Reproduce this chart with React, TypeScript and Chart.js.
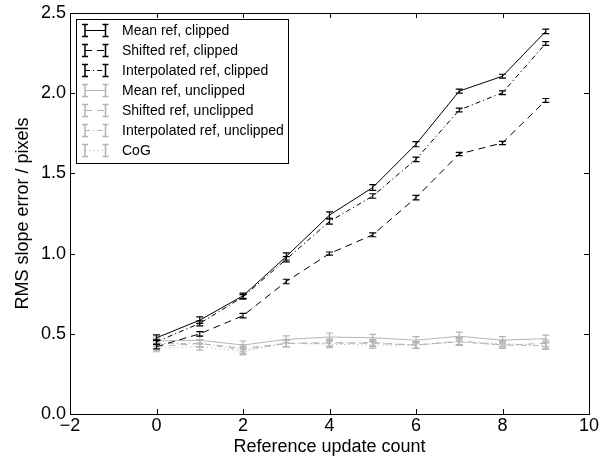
import React, { useEffect, useRef } from "react";
import { Chart, registerables } from "chart.js";

Chart.register(...registerables);

// Reference update count on the x axis
const updateCounts = [0, 1, 2, 3, 4, 5, 6, 7, 8, 9];

// Clipped variants (black)
const meanClipped = [0.475, 0.585, 0.737, 0.982, 1.24, 1.412, 1.682, 2.013, 2.106, 2.385];
const meanClippedErr = [0.018, 0.02, 0.016, 0.022, 0.02, 0.018, 0.016, 0.012, 0.012, 0.014];
const shiftedClipped = [0.42, 0.5, 0.613, 0.826, 1.0, 1.117, 1.349, 1.621, 1.69, 1.955];
const shiftedClippedErr = [0.014, 0.014, 0.014, 0.014, 0.01, 0.012, 0.014, 0.01, 0.01, 0.012];
const interpClipped = [0.45, 0.565, 0.73, 0.965, 1.2, 1.359, 1.588, 1.895, 2.003, 2.31];
const interpClippedErr = [0.016, 0.016, 0.014, 0.016, 0.016, 0.014, 0.014, 0.012, 0.012, 0.012];

// Unclipped variants and centre of gravity (grey)
const meanUnclipped = [0.455, 0.46, 0.43, 0.465, 0.48, 0.475, 0.46, 0.485, 0.46, 0.47];
const meanUnclippedErr = [0.025, 0.025, 0.025, 0.022, 0.025, 0.022, 0.022, 0.025, 0.022, 0.022];
const shiftedUnclipped = [0.42, 0.44, 0.41, 0.44, 0.445, 0.44, 0.43, 0.455, 0.43, 0.44];
const shiftedUnclippedErr = [0.022, 0.022, 0.022, 0.02, 0.022, 0.02, 0.02, 0.022, 0.02, 0.02];
const interpUnclipped = [0.44, 0.44, 0.4, 0.44, 0.44, 0.445, 0.43, 0.45, 0.43, 0.425];
const interpUnclippedErr = [0.022, 0.022, 0.022, 0.02, 0.022, 0.02, 0.02, 0.022, 0.02, 0.02];
const cogValues = [0.41, 0.42, 0.39, 0.44, 0.435, 0.43, 0.43, 0.45, 0.44, 0.425];
const cogErr = [0.022, 0.022, 0.022, 0.02, 0.022, 0.02, 0.02, 0.022, 0.02, 0.02];

// Axis ticks
const xTicks = [-2, 0, 2, 4, 6, 8, 10];
const yTicks = [0, 0.5, 1.0, 1.5, 2.0, 2.5];

const BLACK = "#000000";
const GREY = "#b4b4b4";
const SOLID: number[] = [];
const DASHED = [7, 5];
const DASH_DOT = [5, 3, 1.2, 3];
const DOTTED = [1.2, 3];

const FONT = "'Liberation Sans', Arial, Helvetica, sans-serif";

type SeriesDef = {
  label: string;
  values: number[];
  errors: number[];
  color: string;
  dash: number[];
};

const seriesDefs: SeriesDef[] = [
  { label: "Mean ref, clipped", values: meanClipped, errors: meanClippedErr, color: BLACK, dash: SOLID },
  { label: "Shifted ref, clipped", values: shiftedClipped, errors: shiftedClippedErr, color: BLACK, dash: DASHED },
  { label: "Interpolated ref, clipped", values: interpClipped, errors: interpClippedErr, color: BLACK, dash: DASH_DOT },
  { label: "Mean ref, unclipped", values: meanUnclipped, errors: meanUnclippedErr, color: GREY, dash: SOLID },
  { label: "Shifted ref, unclipped", values: shiftedUnclipped, errors: shiftedUnclippedErr, color: GREY, dash: DASHED },
  { label: "Interpolated ref, unclipped", values: interpUnclipped, errors: interpUnclippedErr, color: GREY, dash: DASH_DOT },
  { label: "CoG", values: cogValues, errors: cogErr, color: GREY, dash: DOTTED },
];

// Vertical error bars with caps, drawn right after each line
const errorBarPlugin = {
  id: "errorBars",
  afterDatasetDraw(chart: any, args: any) {
    const ds = chart.data.datasets[args.index];
    const errs: number[] | undefined = ds.errors;
    if (!errs) return;
    const { ctx, chartArea, scales } = chart;
    const xs = scales.x;
    const ys = scales.y;
    ctx.save();
    ctx.beginPath();
    ctx.rect(chartArea.left, chartArea.top, chartArea.width, chartArea.height);
    ctx.clip();
    ctx.strokeStyle = ds.borderColor;
    ctx.lineWidth = 1.2;
    ctx.setLineDash([]);
    const cap = 3.5;
    ds.data.forEach((p: { x: number; y: number }, i: number) => {
      const px = xs.getPixelForValue(p.x);
      const top = ys.getPixelForValue(p.y + errs[i]);
      const bot = ys.getPixelForValue(p.y - errs[i]);
      ctx.beginPath();
      ctx.moveTo(px, top);
      ctx.lineTo(px, bot);
      ctx.moveTo(px - cap, top);
      ctx.lineTo(px + cap, top);
      ctx.moveTo(px - cap, bot);
      ctx.lineTo(px + cap, bot);
      ctx.stroke();
    });
    ctx.restore();
  },
};

// Box around the axes with inward tick marks on all four sides
const frameTickPlugin = {
  id: "frameTicks",
  afterDraw(chart: any) {
    const { ctx, chartArea, scales } = chart;
    const { left, right, top, bottom } = chartArea;
    const len = 5;
    ctx.save();
    ctx.strokeStyle = "#000";
    ctx.lineWidth = 1;
    ctx.setLineDash([]);
    ctx.beginPath();
    xTicks.forEach((v) => {
      const px = Math.round(scales.x.getPixelForValue(v)) + 0.5;
      ctx.moveTo(px, bottom);
      ctx.lineTo(px, bottom - len);
      ctx.moveTo(px, top);
      ctx.lineTo(px, top + len);
    });
    yTicks.forEach((v) => {
      const py = Math.round(scales.y.getPixelForValue(v)) + 0.5;
      ctx.moveTo(left, py);
      ctx.lineTo(left + len, py);
      ctx.moveTo(right, py);
      ctx.lineTo(right - len, py);
    });
    ctx.stroke();
    ctx.strokeRect(Math.round(left) + 0.5, Math.round(top) + 0.5, Math.round(right - left), Math.round(bottom - top));
    ctx.restore();
  },
};

// Legend box in the upper-left corner with error-bar icons
const legendBoxPlugin = {
  id: "legendBox",
  afterDraw(chart: any) {
    const { ctx } = chart;
    const boxLeft = 76.5;
    const boxTop = 19.5;
    const boxW = 212;
    const boxH = 144;
    const rowTop = 30.5;
    const rowGap = 20;
    const barL = 85;
    const barR = 105.5;
    const textX = 122;
    ctx.save();
    ctx.fillStyle = "#fff";
    ctx.fillRect(boxLeft, boxTop, boxW, boxH);
    ctx.strokeStyle = "#000";
    ctx.lineWidth = 1;
    ctx.strokeRect(boxLeft, boxTop, boxW, boxH);
    ctx.font = `14px ${FONT}`;
    ctx.textBaseline = "middle";
    ctx.textAlign = "left";
    seriesDefs.forEach((s, i) => {
      const cy = rowTop + i * rowGap;
      ctx.strokeStyle = s.color;
      // connecting line in the series' style
      ctx.lineWidth = 1;
      ctx.setLineDash(s.dash);
      ctx.beginPath();
      ctx.moveTo(barL, cy);
      ctx.lineTo(barR, cy);
      ctx.stroke();
      // the two error-bar glyphs
      ctx.setLineDash([]);
      ctx.lineWidth = 1.5;
      ctx.beginPath();
      [barL, barR].forEach((bx) => {
        ctx.moveTo(bx, cy - 6);
        ctx.lineTo(bx, cy + 6);
        ctx.moveTo(bx - 3, cy - 6);
        ctx.lineTo(bx + 3, cy - 6);
        ctx.moveTo(bx - 3, cy + 6);
        ctx.lineTo(bx + 3, cy + 6);
      });
      ctx.stroke();
      ctx.fillStyle = "#000";
      ctx.fillText(s.label, textX, cy + 0.5);
    });
    ctx.restore();
  },
};

export default function App() {
  const canvasRef = useRef<HTMLCanvasElement | null>(null);

  useEffect(() => {
    const canvas = canvasRef.current;
    if (!canvas) return;

    const datasets = seriesDefs.map((s) => ({
      label: s.label,
      data: updateCounts.map((x, i) => ({ x, y: s.values[i] })),
      errors: s.errors,
      borderColor: s.color,
      backgroundColor: s.color,
      borderWidth: 1,
      borderDash: s.dash,
      pointRadius: 0,
      tension: 0,
      fill: false,
    }));

    const chart = new Chart(canvas, {
      type: "line",
      data: { datasets: datasets as any },
      options: {
        responsive: false,
        animation: false,
        devicePixelRatio: 1,
        layout: { padding: { top: 13, right: 25, left: 0, bottom: 0 } },
        plugins: {
          legend: { display: false },
          tooltip: { enabled: false },
        },
        scales: {
          x: {
            type: "linear",
            min: -2,
            max: 10,
            afterBuildTicks: (scale: any) => {
              scale.ticks = xTicks.map((v) => ({ value: v }));
            },
            afterFit: (scale: any) => {
              scale.height = 45;
              scale.paddingLeft = 0;
              scale.paddingRight = 0;
            },
            grid: { display: false, drawTicks: false },
            border: { display: false },
            ticks: {
              color: "#000",
              padding: 1,
              font: { family: FONT, size: 18 },
              maxRotation: 0,
              autoSkip: false,
              callback: (v: any) => (Number(v) < 0 ? "\u2212" + Math.abs(Number(v)) : String(v)),
            },
            title: {
              display: true,
              text: "Reference update count",
              color: "#000",
              font: { family: FONT, size: 18 },
              padding: { top: 0, bottom: 1 },
            },
          },
          y: {
            type: "linear",
            min: 0,
            max: 2.5,
            afterBuildTicks: (scale: any) => {
              scale.ticks = yTicks.map((v) => ({ value: v }));
            },
            afterFit: (scale: any) => {
              scale.width = 70;
              scale.paddingTop = 0;
              scale.paddingBottom = 0;
            },
            grid: { display: false, drawTicks: false },
            border: { display: false },
            ticks: {
              color: "#000",
              padding: 4,
              font: { family: FONT, size: 18 },
              autoSkip: false,
              callback: (v: any) => Number(v).toFixed(1),
            },
            title: {
              display: true,
              text: "RMS slope error / pixels",
              color: "#000",
              font: { family: FONT, size: 18 },
              padding: { top: 12, bottom: 0 },
            },
          },
        },
      },
      plugins: [errorBarPlugin, frameTickPlugin, legendBoxPlugin],
    });

    return () => chart.destroy();
  }, []);

  return (
    <div style={{ position: "fixed", left: 0, top: 0, width: 614, height: 459, background: "#fff" }}>
      <canvas ref={canvasRef} width={614} height={459} />
    </div>
  );
}
